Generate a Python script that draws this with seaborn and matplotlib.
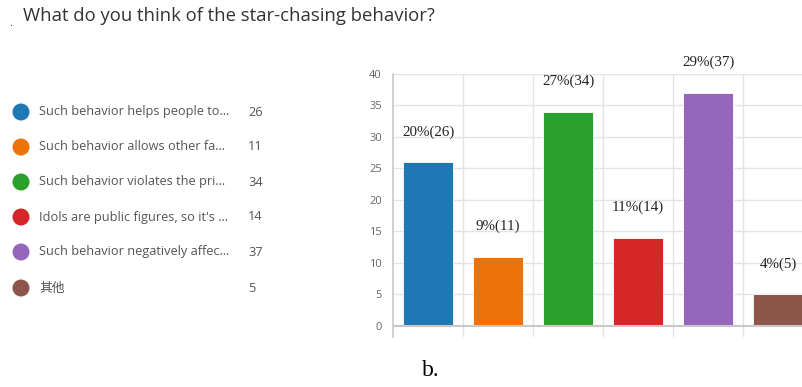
import matplotlib
matplotlib.use("Agg")
import matplotlib.pyplot as plt
import seaborn as sns
import pandas as pd

# Survey responses
options = [
    "Such behavior helps people to...",
    "Such behavior allows other fa...",
    "Such behavior violates the pri...",
    "Idols are public figures, so it's ...",
    "Such behavior negatively affec...",
    "其他",
]
counts = [26, 11, 34, 14, 37, 5]
percents = ["20%", "9%", "27%", "11%", "29%", "4%"]
colors = ["#1f77b4", "#ec7209", "#2ca02c", "#d62728", "#9467bd", "#8c564b"]
yticks = [0, 5, 10, 15, 20, 25, 30, 35, 40]

sns.set_style("white")
plt.rcParams["font.family"] = ["Open Sans", "Noto Sans CJK SC", "DejaVu Sans"]

W, H = 803, 387
fig = plt.figure(figsize=(W / 100, H / 100), dpi=100)

# Bar chart panel
ax = fig.add_axes([393 / W, 1 - 337 / H, 1 - 393 / W, (337 - 74) / H])
df = pd.DataFrame({"option": options, "count": counts})
sns.barplot(data=df, x="option", y="count", hue="option", palette=colors,
            order=options, hue_order=options, width=0.714, legend=False,
            saturation=1, ax=ax, edgecolor="white", linewidth=0.6)
ax.set_xlim(-0.5, 5.357)
ax.set_ylim(-1.75, 40)
ax.set_yticks(yticks)
ax.set_yticklabels([str(v) for v in yticks], fontsize=8, color="#666666")
ax.tick_params(axis="y", length=0, pad=8)
ax.set_xticks([])
ax.set_xlabel("")
ax.set_ylabel("")
for y in yticks[1:]:
    ax.axhline(y, color="#e4e4e4", lw=1, zorder=0)
for x in [0.5, 1.5, 2.5, 3.5, 4.5]:
    ax.axvline(x, color="#e4e4e4", lw=1, zorder=0)
ax.axhline(0, color="#c8c8c8", lw=1.5, zorder=3)
for s in ["top", "right", "bottom"]:
    ax.spines[s].set_visible(False)
ax.spines["left"].set_color("#c8c8c8")
ax.spines["left"].set_linewidth(1.2)

for i, (c, p) in enumerate(zip(counts, percents)):
    ax.annotate(f"{p}({c})", xy=(i, c), xytext=(0, 17), textcoords="offset points",
                ha="center", va="bottom", fontsize=10.8, color="#222222",
                family=["Times New Roman", "Liberation Serif", "DejaVu Serif"],
                annotation_clip=False)

# Legend panel, in pixel coordinates
lax = fig.add_axes([0, 0, 360 / W, 1])
lax.set_xlim(0, 360)
lax.set_ylim(H, 0)
lax.axis("off")
rows = [112, 147, 182, 217, 252, 288]
lax.scatter([21] * len(rows), rows, s=150, c=colors, edgecolors="none")
for y, label, c in zip(rows, options, counts):
    lax.text(39, y, label, va="center", ha="left", fontsize=9.2, color="#555555",
             family=["Open Sans", "Noto Sans CJK SC", "DejaVu Sans"])
    lax.text(248, y, str(c), va="center", ha="left", fontsize=9.2, color="#555555")

fig.text(9 / W, 1 - 24 / H, ".", fontsize=8, color="#333333", va="center")
fig.text(23 / W, 1 - 16 / H, "What do you think of the star-chasing behavior?",
         fontsize=13.3, color="#333333", va="center", ha="left")
fig.text(431 / W, 1 - 370 / H, "b.", fontsize=17, color="#000000", va="center",
         ha="center", family=["Times New Roman", "Liberation Serif", "DejaVu Serif"])

fig.savefig("out.png", dpi=100)
